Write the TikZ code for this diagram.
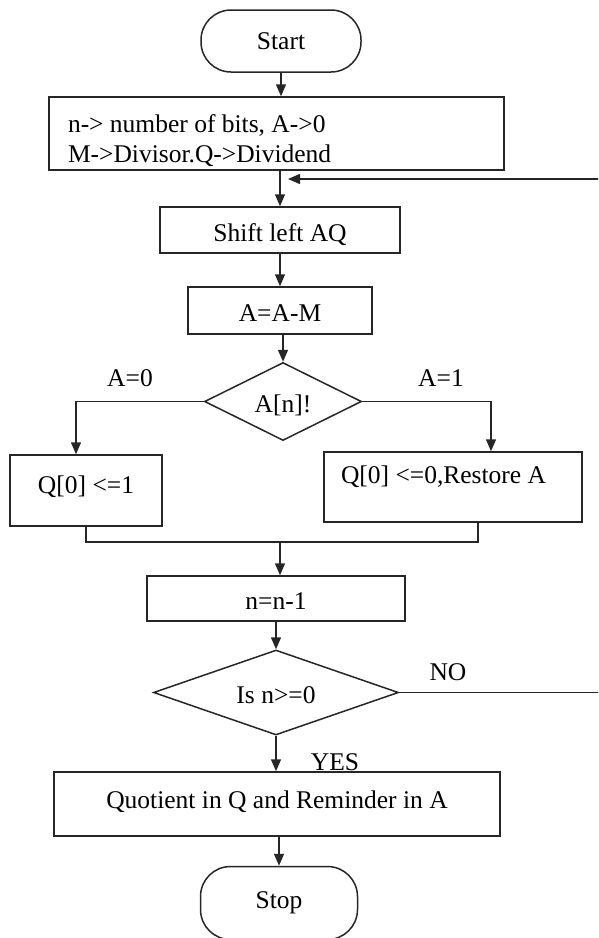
\documentclass[tikz,border=0pt]{standalone}
\usepackage{fontspec}
\setmainfont{Liberation Serif}
\usetikzlibrary{shapes.geometric,arrows.meta}

\tikzstyle{block}=[rectangle,
    draw=black!85,
    line width=1.5pt,
    inner sep=0pt,
    text height=22pt,
    text depth=0pt]
\tikzstyle{term}=[rectangle,
    rounded corners=30pt,
    draw=black!85,
    line width=1.5pt,
    inner sep=0pt]
\tikzstyle{decision}=[diamond,
    aspect=2,
    draw=black!85,
    line width=1.5pt,
    inner sep=0pt,
    text height=22pt,
    text depth=0pt]
\tikzstyle{line}=[draw=black!85, line width=1.5pt]
\tikzstyle{arrow}=[line, -{Triangle[length=12pt,width=10pt]}]

\begin{document}
\begin{tikzpicture}[x=1pt, y=-1pt, font=\fontsize{25.5pt}{30pt}\selectfont]
                \useasboundingbox (0,0) rectangle (598,938);
                \clip (0,0) rectangle (598,938);
                \node (start) [term, minimum width=160pt, minimum height=62pt] at (281,41) {Start};
                \node (init) [block, minimum width=455pt, minimum height=73pt, text width=417pt,
                    inner xsep=19pt, align=flush left, text height=, text depth=] at (276.5,133.5)
                    {\rule{0pt}{33pt}n-> number of bits, A->0\\M->Divisor.Q->Dividend};
                \coordinate (loop) at (288,179);
                \node (shift) [block, minimum width=240pt, minimum height=46pt] at (280,230) {Shift left AQ};
                \node (sub) [block, minimum width=184pt, minimum height=47pt] at (280,310.5) {A=A-M};
                \node (chk) [decision, minimum width=157pt, minimum height=78pt] at (283,401.5) {A[n]!};
                \node (lblzero) at (130,378) {A=0};
                \node (lblone) at (441,378) {A=1};
                \node (qone) [block, minimum width=152pt, minimum height=71pt, text depth=16pt] at (86,490.5) {Q[0] <=1};
                \node (qzero) [block, minimum width=258pt, minimum height=70pt, text width=224pt,
                    inner xsep=17pt, align=flush left, text depth=29pt] at (453,487) {Q[0] <=0,Restore A};
                \coordinate (join) at (280,542);
                \node (dec) [block, minimum width=258pt, minimum height=45pt] at (276,598.5) {n=n-1};
                \node (test) [decision, minimum width=245pt, minimum height=85pt] at (276,692.5) {Is n>=0};
                \node (lblno) at (448,672) {NO};
                \node (lblyes) at (335,762) {YES};
                \node (res) [block, minimum width=446pt, minimum height=64pt, text depth=13pt] at (277,804)
                    {Quotient in Q and Reminder in A};
                \node (stop) [term, minimum width=157pt, minimum height=73pt] at (279,903) {Stop};
                \draw [arrow] (start) -- (start |- init.north);
                \draw [arrow] (init.south -| shift) -- (shift);
                \draw [arrow] (test.east) -- ++(230pt,0) |- (loop);
                \draw [arrow] (shift) -- (sub);
                \draw [arrow] (sub.south -| chk) -- (chk);
                \draw [arrow] (chk.west) -| ([xshift=-10pt]qone.north);
                \draw [arrow] (chk.east) -| ([xshift=38pt]qzero.north);
                \draw [line] (qone.south) |- (join) -| ([xshift=25pt]qzero.south);
                \draw [arrow] (join) -- (join |- dec.north);
                \draw [arrow] (dec) -- (test);
                \draw [arrow] (test) -- (test |- res.north);
                \draw [arrow] (res.south -| stop) -- (stop);
            \end{tikzpicture}
\end{document}
